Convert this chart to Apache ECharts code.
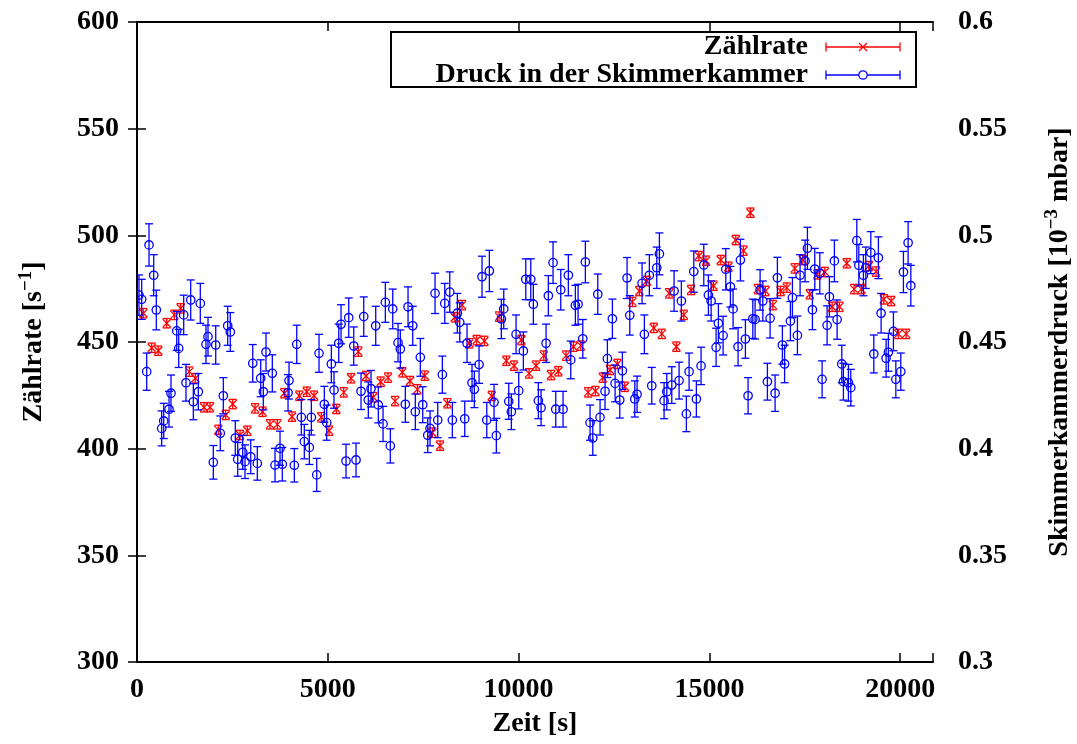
<!DOCTYPE html>
<html>
<head>
<meta charset="utf-8">
<script src="https://cdn.jsdelivr.net/npm/echarts@6/dist/echarts.min.js"></script>
<style>
    html, body { margin: 0; padding: 0; background: #fff; }
    #chart { width: 1077px; height: 744px; }
</style>
</head>
<body>
<div id="chart"></div>
<script>
/* ===== Data ===== */
// Zählrate [1/s] over time [s]
const rateTime = [
    165, 385, 558, 778, 978, 1145, 1371, 1528, 1756, 1913,
    2131, 2325, 2508, 2700, 2891, 3093, 3289, 3486, 3677, 3861,
    4063, 4254, 4448, 4639, 4830, 5032, 5224, 5418, 5609, 5800,
    6002, 6193, 6387, 6579, 6762, 6953, 7155, 7347, 7541, 7740,
    7942, 8133, 8327, 8518, 8710, 8903, 9103, 9297, 9488, 9680,
    9881, 10072, 10274, 10458, 10660, 10851, 11042, 11244, 11436, 11629,
    11821, 12012, 12206, 12397, 12589, 12783, 12982, 13165, 13359, 13543,
    13752, 13944, 14135, 14329, 14520, 14722, 14913, 15105, 15299, 15498,
    15692, 15891, 16075, 16269, 16468, 16662, 16866, 17029, 17238, 17448,
    17632, 17831, 18025, 18216, 18407, 18601, 18793, 18984, 19178, 19369,
    19571, 19762, 19954, 20155
];
const rateValue = [
    463.5, 447.3, 445.9, 458.8, 462.7, 465.8, 436.1, 433.0, 419.4, 419.4,
    408.8, 415.8, 420.9, 406.4, 408.4, 418.9, 417.3, 411.4, 411.4, 426.0,
    415.0, 424.8, 426.7, 424.8, 414.7, 408.4, 418.6, 426.4, 433.0, 445.5,
    434.1, 424.1, 431.4, 433.3, 422.3, 435.8, 431.7, 427.8, 434.2, 407.5,
    401.4, 421.3, 461.6, 467.3, 449.4, 450.9, 450.5, 424.7, 461.9, 441.2,
    438.9, 450.9, 435.3, 438.9, 443.6, 434.5, 436.3, 443.6, 447.8, 448.3,
    426.4, 427.0, 433.3, 436.9, 439.7, 429.0, 468.8, 473.9, 478.6, 456.6,
    453.8, 472.8, 447.8, 462.7, 474.4, 490.3, 488.1, 476.4, 488.4, 485.3,
    497.8, 492.8, 510.6, 474.8, 473.9, 467.3, 473.9, 475.5, 484.5, 488.4,
    472.4, 481.7, 482.8, 466.5, 466.5, 486.9, 474.8, 474.8, 485.6, 483.0,
    470.0, 469.2, 453.8, 453.8
];
const RATE_ERR = 2.2;

// Druck in der Skimmerkammer [1e-3 mbar] over time [s]
const pressureTime = [
    52, 123, 254, 315, 438, 506, 647, 700, 839, 891,
    1041, 1093, 1224, 1284, 1407, 1476, 1607, 1659, 1808, 1861,
    2000, 2063, 2183, 2262, 2377, 2445, 2576, 2639, 2770, 2831,
    2980, 3033, 3153, 3242, 3310, 3381, 3546, 3617, 3748, 3808,
    3958, 3984, 4123, 4186, 4306, 4385, 4516, 4569, 4710, 4770,
    4909, 4972, 5093, 5163, 5287, 5347, 5478, 5549, 5680, 5740,
    5871, 5942, 6062, 6133, 6256, 6324, 6448, 6508, 6639, 6702,
    6841, 6901, 7032, 7103, 7226, 7294, 7425, 7488, 7619, 7680,
    7811, 7881, 8002, 8065, 8196, 8264, 8395, 8458, 8589, 8649,
    8780, 8841, 8964, 9042, 9166, 9234, 9357, 9417, 9548, 9611,
    9742, 9810, 9934, 10004, 10125, 10188, 10319, 10387, 10518, 10589,
    10720, 10780, 10903, 10974, 11105, 11165, 11304, 11367, 11488, 11559,
    11682, 11750, 11873, 11944, 12075, 12135, 12266, 12327, 12458, 12529,
    12652, 12720, 12843, 12914, 13045, 13105, 13236, 13296, 13427, 13490,
    13621, 13690, 13813, 13884, 14015, 14075, 14206, 14266, 14397, 14468,
    14591, 14659, 14782, 14853, 14974, 15045, 15176, 15236, 15359, 15430,
    15551, 15621, 15752, 15813, 15944, 16014, 16138, 16198, 16329, 16400,
    16520, 16591, 16722, 16782, 16913, 16971, 17123, 17176, 17307, 17377,
    17508, 17569, 17700, 17762, 17894, 17954, 18085, 18145, 18276, 18347,
    18470, 18512, 18643, 18706, 18863, 18916, 19036, 19099, 19230, 19309,
    19429, 19500, 19631, 19691, 19823, 19886, 20016, 20085, 20208, 20279
];
const pressureValue = [
    0.4720, 0.4700, 0.4361, 0.4955, 0.4813, 0.4650, 0.4095, 0.4130, 0.4185, 0.4260,
    0.4552, 0.4470, 0.4627, 0.4309, 0.4697, 0.4220, 0.4267, 0.4681, 0.4489, 0.4525,
    0.3936, 0.4486, 0.4072, 0.4248, 0.4576, 0.4547, 0.4050, 0.3950, 0.3983, 0.3939,
    0.3962, 0.4400, 0.3931, 0.4330, 0.4267, 0.4453, 0.4353, 0.3923, 0.4002, 0.3927,
    0.4262, 0.4319, 0.3922, 0.4489, 0.4147, 0.4033, 0.4006, 0.4147, 0.3877, 0.4447,
    0.4208, 0.4122, 0.4397, 0.4275, 0.4494, 0.4583, 0.3942, 0.4614, 0.4481, 0.3947,
    0.4269, 0.4619, 0.4228, 0.4281, 0.4576, 0.4205, 0.4116, 0.4686, 0.4013, 0.4655,
    0.4497, 0.4467, 0.4208, 0.4665, 0.4576, 0.4173, 0.4428, 0.4206, 0.4063, 0.4095,
    0.4728, 0.4134, 0.4347, 0.4681, 0.4734, 0.4134, 0.4635, 0.4592, 0.4140, 0.4494,
    0.4309, 0.4278, 0.4394, 0.4806, 0.4134, 0.4833, 0.4217, 0.4061, 0.4608, 0.4655,
    0.4222, 0.4173, 0.4536, 0.4272, 0.4458, 0.4794, 0.4794, 0.4677, 0.4225, 0.4192,
    0.4494, 0.4717, 0.4872, 0.4185, 0.4745, 0.4185, 0.4813, 0.4416, 0.4672, 0.4677,
    0.4515, 0.4875, 0.4122, 0.4050, 0.4724, 0.4147, 0.4269, 0.4422, 0.4609, 0.4306,
    0.4228, 0.4365, 0.4800, 0.4625, 0.4233, 0.4255, 0.4775, 0.4536, 0.4813, 0.4295,
    0.4848, 0.4913, 0.4225, 0.4267, 0.4298, 0.4739, 0.4319, 0.4692, 0.4163, 0.4361,
    0.4830, 0.4233, 0.4388, 0.4861, 0.4720, 0.4692, 0.4475, 0.4588, 0.4530, 0.4841,
    0.4759, 0.4655, 0.4478, 0.4884, 0.4514, 0.4248, 0.4609, 0.4606, 0.4744, 0.4692,
    0.4314, 0.4611, 0.4260, 0.4801, 0.4486, 0.4397, 0.4598, 0.4708, 0.4531, 0.4813,
    0.4880, 0.4939, 0.4651, 0.4842, 0.4822, 0.4325, 0.4578, 0.4712, 0.4880, 0.4605,
    0.4397, 0.4314, 0.4309, 0.4286, 0.4975, 0.4860, 0.4813, 0.4848, 0.4919, 0.4444,
    0.4895, 0.4635, 0.4424, 0.4452, 0.4550, 0.4325, 0.4361, 0.4828, 0.4965, 0.4764
];
const PRESSURE_REL_ERR = 0.02;

const xTicks = [0, 5000, 10000, 15000, 20000];

/* ===== Styles ===== */
const FONT = '"Liberation Serif", "DejaVu Serif", serif';
const RED = '#ff0000';
const BLUE = '#0000ff';

const textStyle = {
    fontFamily: FONT,
    fontWeight: 'bold',
    fontSize: 28,
    color: '#000'
};

// rich text with a raised exponent for the axis titles
const titleRich = {
    n: { fontFamily: FONT, fontWeight: 'bold', fontSize: 28, color: '#000', lineHeight: 34 },
    s: { fontFamily: FONT, fontWeight: 'bold', fontSize: 19, color: '#000', lineHeight: 14, verticalAlign: 'top' }
};

const axisLine = { show: true, lineStyle: { color: '#000', width: 2 } };
const axisTick = { show: true, inside: true, length: 9, lineStyle: { color: '#000', width: 1.5 } };

/* ===== Error bar renderer ===== */
function errorBarItem(marker) {
    return function (params, api) {
        const t = api.value(0);
        const v = api.value(1);
        const e = api.value(2);
        const p = api.coord([t, v]);
        const hi = api.coord([t, v + e]);
        const lo = api.coord([t, v - e]);
        const color = api.visual('color');
        const line = { stroke: color, lineWidth: 1.3 };
        const cap = 4;
        const children = [
            { type: 'line', shape: { x1: p[0], y1: hi[1], x2: p[0], y2: lo[1] }, style: line },
            { type: 'line', shape: { x1: p[0] - cap, y1: hi[1], x2: p[0] + cap, y2: hi[1] }, style: line },
            { type: 'line', shape: { x1: p[0] - cap, y1: lo[1], x2: p[0] + cap, y2: lo[1] }, style: line }
        ];
        if (marker === 'cross') {
            const s = 4;
            children.push(
                { type: 'line', shape: { x1: p[0] - s, y1: p[1] - s, x2: p[0] + s, y2: p[1] + s }, style: line },
                { type: 'line', shape: { x1: p[0] - s, y1: p[1] + s, x2: p[0] + s, y2: p[1] - s }, style: line }
            );
        } else {
            children.push({
                type: 'circle',
                shape: { cx: p[0], cy: p[1], r: 4.2 },
                style: { fill: 'none', stroke: color, lineWidth: 1.3 }
            });
        }
        return { type: 'group', children: children };
    };
}

/* ===== Legend (gnuplot style box, drawn with graphic) ===== */
function legendSample(y, color, marker) {
    const line = { stroke: color, lineWidth: 1.3 };
    const x1 = 826, x2 = 900, xm = 863;
    const els = [
        { type: 'line', shape: { x1: x1, y1: y, x2: x2, y2: y }, style: line },
        { type: 'line', shape: { x1: x1, y1: y - 4.5, x2: x1, y2: y + 4.5 }, style: line },
        { type: 'line', shape: { x1: x2, y1: y - 4.5, x2: x2, y2: y + 4.5 }, style: line }
    ];
    if (marker === 'cross') {
        els.push(
            { type: 'line', shape: { x1: xm - 4, y1: y - 4, x2: xm + 4, y2: y + 4 }, style: line },
            { type: 'line', shape: { x1: xm - 4, y1: y + 4, x2: xm + 4, y2: y - 4 }, style: line }
        );
    } else {
        els.push({ type: 'circle', shape: { cx: xm, cy: y, r: 4.2 }, style: { fill: '#fff', stroke: color, lineWidth: 1.3 } });
    }
    return els;
}

const legendText = (y, text) => ({
    type: 'text',
    x: 808,
    y: y,
    style: {
        text: text,
        align: 'right',
        verticalAlign: 'middle',
        fontFamily: FONT,
        fontWeight: 'bold',
        fontSize: 28,
        fill: '#000'
    }
});

/* ===== Chart ===== */
const chart = echarts.init(document.getElementById('chart'));

const option = {
    animation: false,
    backgroundColor: '#fff',
    grid: {
        left: 137,
        right: 144,
        top: 22,
        bottom: 82,
        outerBoundsMode: 'none'
    },
    xAxis: [{
        type: 'value',
        position: 'bottom',
        min: 0,
        max: 20860,
        interval: 5000,
        axisLine: axisLine,
        axisTick: axisTick,
        splitLine: { show: false },
        axisLabel: Object.assign({
            margin: 14,
            formatter: v => (xTicks.indexOf(v) >= 0 ? String(v) : '')
        }, textStyle),
        name: 'Zeit [s]',
        nameLocation: 'middle',
        nameGap: 48,
        nameTextStyle: textStyle
    }, {
        type: 'value',
        position: 'top',
        min: 0,
        max: 20860,
        interval: 5000,
        axisLine: axisLine,
        axisTick: axisTick,
        splitLine: { show: false },
        axisLabel: { show: false }
    }],
    yAxis: [{
        type: 'value',
        position: 'left',
        min: 300,
        max: 600,
        interval: 50,
        axisLine: axisLine,
        axisTick: axisTick,
        splitLine: { show: false },
        axisLabel: Object.assign({ margin: 18 }, textStyle),
        name: '{n|Zählrate [s}{s|−1}{n|]}',
        nameLocation: 'middle',
        nameRotate: 90,
        nameGap: 86,
        nameTextStyle: { rich: titleRich }
    }, {
        type: 'value',
        position: 'right',
        min: 0.3,
        max: 0.6,
        interval: 0.05,
        axisLine: axisLine,
        axisTick: axisTick,
        splitLine: { show: false },
        axisLabel: Object.assign({
            margin: 25,
            formatter: v => String(+v.toFixed(2))
        }, textStyle),
        name: '{n|Skimmerkammerdruck [10}{s|−3}{n| mbar]}',
        nameLocation: 'middle',
        nameRotate: 90,
        nameGap: 110,
        nameTextStyle: { rich: titleRich }
    }],
    series: [{
        name: 'Zählrate',
        type: 'custom',
        xAxisIndex: 0,
        yAxisIndex: 0,
        clip: true,
        itemStyle: { color: RED },
        encode: { x: 0, y: 1 },
        renderItem: errorBarItem('cross'),
        data: rateTime.map((t, i) => [t, rateValue[i], RATE_ERR])
    }, {
        name: 'Druck in der Skimmerkammer',
        type: 'custom',
        xAxisIndex: 0,
        yAxisIndex: 1,
        clip: true,
        itemStyle: { color: BLUE },
        encode: { x: 0, y: 1 },
        renderItem: errorBarItem('circle'),
        data: pressureTime.map((t, i) => [t, pressureValue[i], pressureValue[i] * PRESSURE_REL_ERR])
    }],
    graphic: [
        {
            type: 'rect',
            shape: { x: 391, y: 32, width: 525, height: 55 },
            style: { fill: '#fff', stroke: '#000', lineWidth: 2 },
            z: 10
        },
        Object.assign(legendText(47, 'Zählrate'), { z: 11 }),
        Object.assign(legendText(75, 'Druck in der Skimmerkammer'), { z: 11 }),
        ...legendSample(47, RED, 'cross').map(e => Object.assign(e, { z: 11 })),
        ...legendSample(75, BLUE, 'circle').map(e => Object.assign(e, { z: 11 }))
    ]
};

chart.setOption(option);
window.addEventListener('resize', () => chart.resize());
</script>
</body>
</html>
